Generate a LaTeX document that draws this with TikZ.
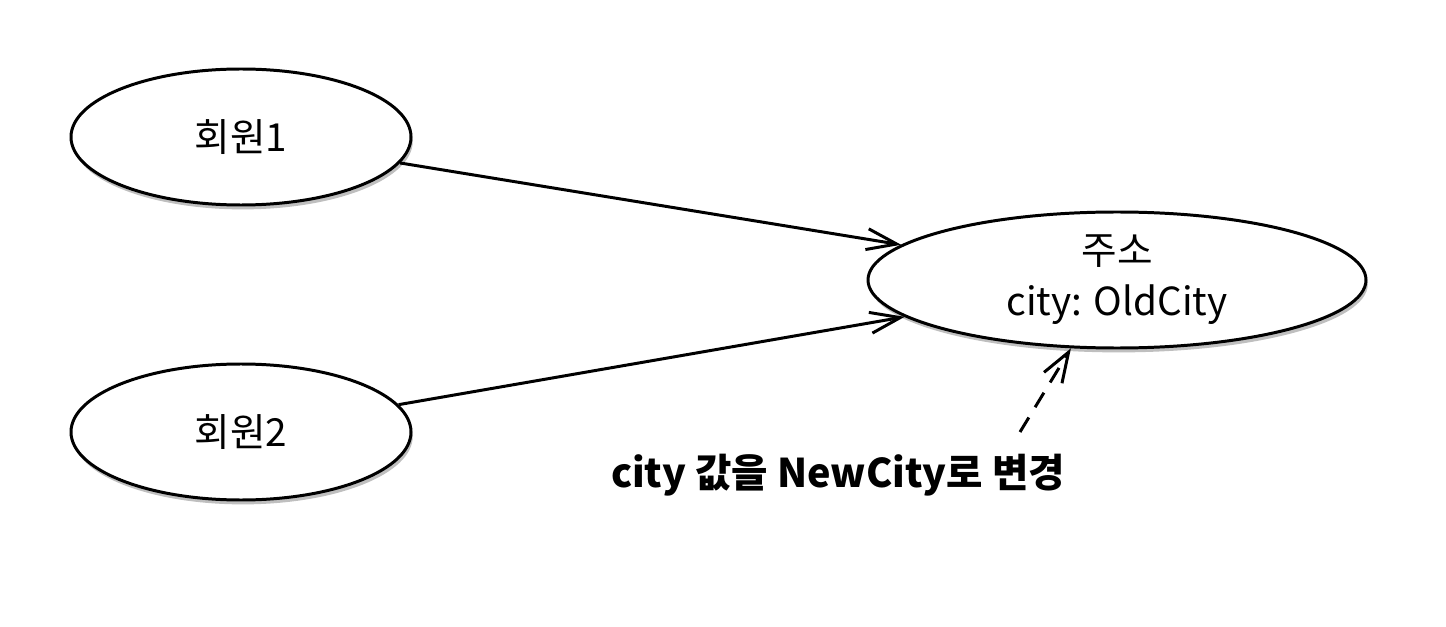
\documentclass[tikz,border=0pt]{standalone}
\usepackage{fontspec}
\setmainfont{Noto Sans CJK KR}
\usetikzlibrary{shapes.geometric,arrows.meta,shadows}

\begin{document}
\begin{tikzpicture}[
    obj/.style={ellipse, draw, line width=1.7pt, fill=white, inner sep=0pt,
      font=\fontsize{22}{29}\selectfont, align=center,
      drop shadow={shadow xshift=1pt, shadow yshift=-2.5pt, fill=black, opacity=0.25}},
    ref/.style={line width=1.7pt, -{Straight Barb[length=0.6cm, width=0.42cm, line width=1.7pt]}}
  ]
    \useasboundingbox (0,0) rectangle (28.92,12.52);

    % --- Membri ---
    \node[obj, minimum width=6.8cm, minimum height=2.72cm] (m1) at (4.82, 9.78) {회원1};
    \node[obj, minimum width=6.8cm, minimum height=2.72cm] (m2) at (4.82, 3.88) {회원2};

    % --- Indirizzo condiviso ---
    \node[obj, minimum width=9.96cm, minimum height=2.72cm] (addr) at (22.34, 6.92) {주소\\city: OldCity};

    % Riferimenti
    \draw[ref] (m1) -- (addr);
    \draw[ref] (m2) -- (addr);

    % Modifica
    \node[font=\fontsize{22.5}{27}\selectfont\bfseries] (chg) at (16.76, 3.02) {city 값을 NewCity로 변경};
    \coordinate (chgtip) at (20.4, 3.88);
    \draw[ref, dash pattern=on 0.34cm off 0.24cm] (chgtip) -- (addr.-124);
  \end{tikzpicture}
\end{document}
